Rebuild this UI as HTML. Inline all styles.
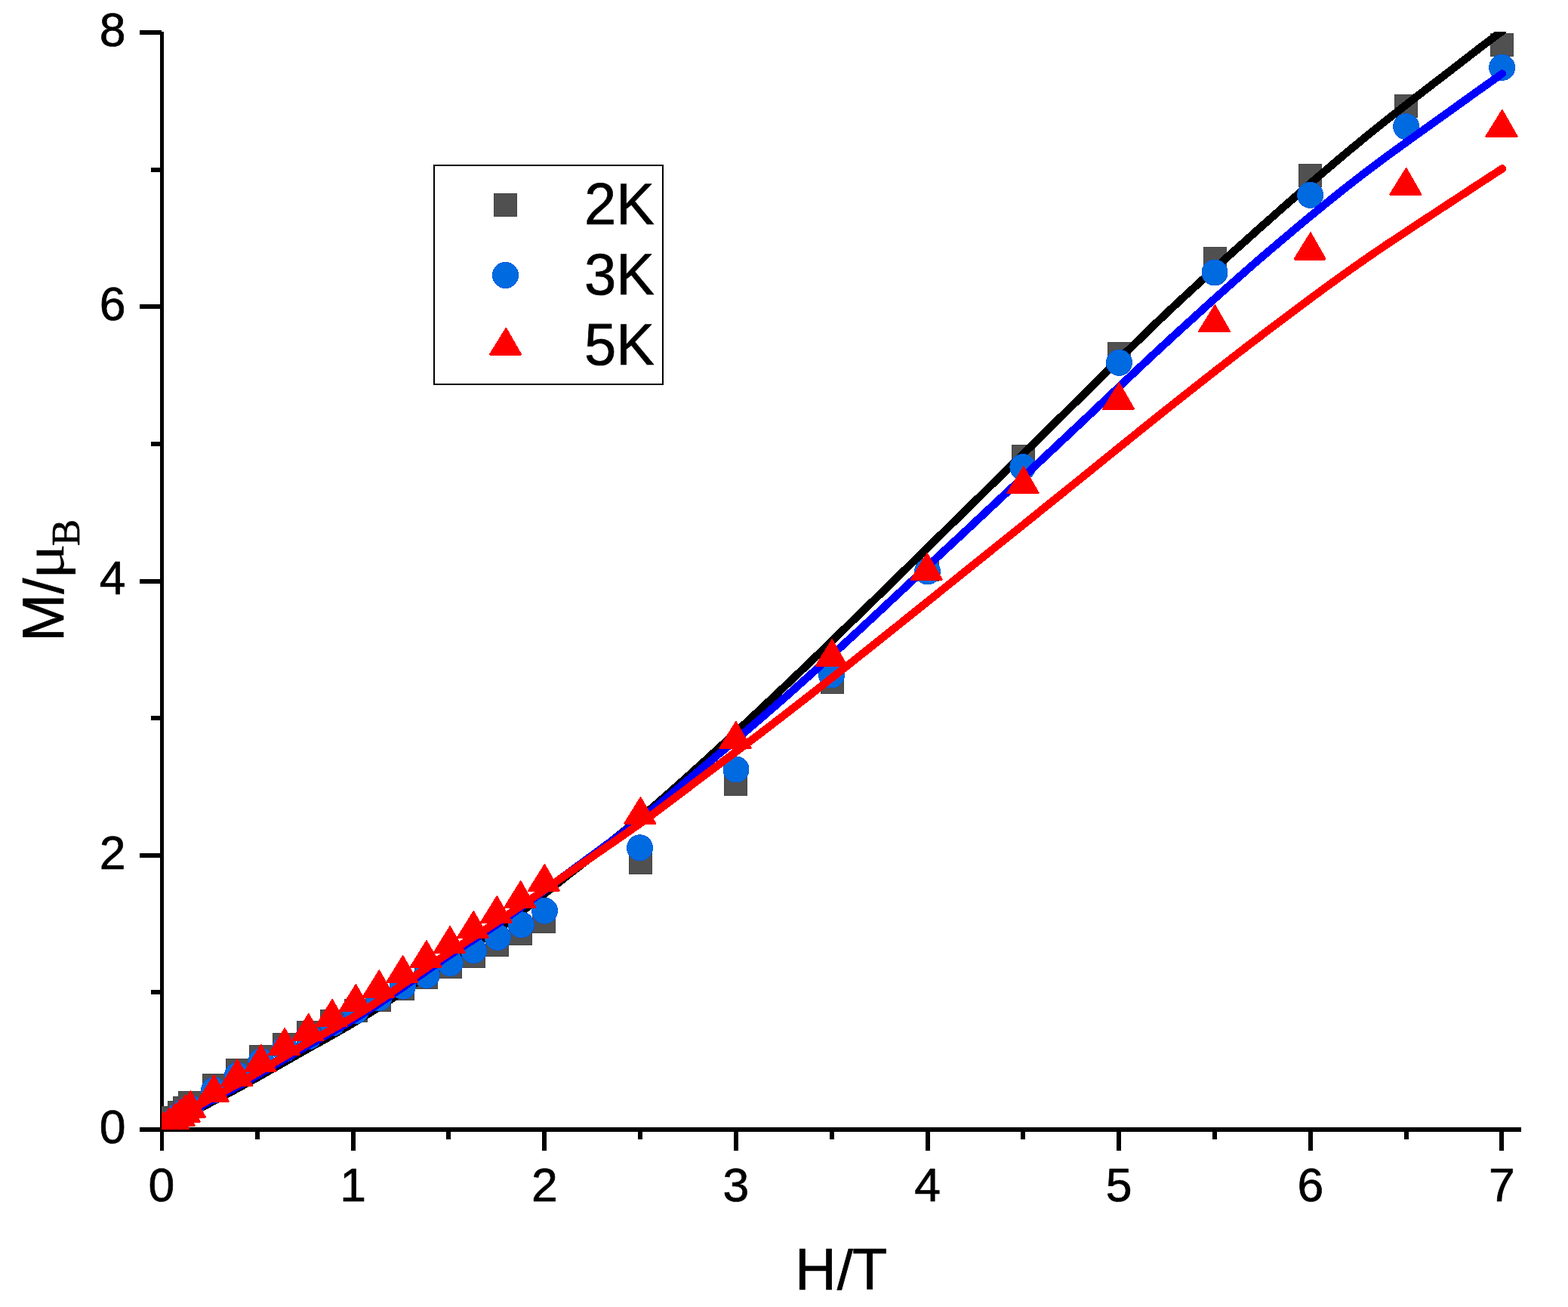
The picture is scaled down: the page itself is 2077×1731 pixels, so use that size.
<!DOCTYPE html>
<html lang="en"><head><meta charset="utf-8"><title>M/μB vs H/T</title>
<style>html,body{margin:0;padding:0;background:#fff}body{width:2077px;height:1731px;overflow:hidden}svg{display:block}text{font-family:"Liberation Sans", Arial, Helvetica, sans-serif;fill:#000;stroke:#000;stroke-width:0.7px;stroke-linejoin:round}</style>
</head><body>
<svg width="2077" height="1731" viewBox="0 0 2077 1731">
<rect x="0" y="0" width="2077" height="1731" fill="#fff"/>
<defs><clipPath id="plot"><rect x="214" y="42" width="1802" height="1454"/></clipPath></defs>
<g fill="#000" shape-rendering="crispEdges">
<rect x="212" y="42" width="5" height="1457"/>
<rect x="212" y="1493" width="1803" height="6"/>
<rect x="185" y="1493" width="29" height="6"/>
<rect x="200" y="1311" width="14" height="6"/>
<rect x="185" y="1130" width="29" height="6"/>
<rect x="200" y="948" width="14" height="6"/>
<rect x="185" y="767" width="29" height="6"/>
<rect x="200" y="585" width="14" height="6"/>
<rect x="185" y="403" width="29" height="6"/>
<rect x="200" y="222" width="14" height="6"/>
<rect x="185" y="40" width="29" height="6"/>
<rect x="212" y="1496" width="5" height="28"/>
<rect x="338" y="1496" width="6" height="13"/>
<rect x="465" y="1496" width="6" height="28"/>
<rect x="591" y="1496" width="6" height="13"/>
<rect x="718" y="1496" width="6" height="28"/>
<rect x="845" y="1496" width="6" height="13"/>
<rect x="972" y="1496" width="6" height="28"/>
<rect x="1099" y="1496" width="6" height="13"/>
<rect x="1226" y="1496" width="6" height="28"/>
<rect x="1352" y="1496" width="6" height="13"/>
<rect x="1479" y="1496" width="6" height="28"/>
<rect x="1606" y="1496" width="6" height="13"/>
<rect x="1733" y="1496" width="6" height="28"/>
<rect x="1860" y="1496" width="6" height="13"/>
<rect x="1986" y="1496" width="6" height="28"/>
</g>
<text transform="translate(166.4 1513.8) scale(1 1.01)" font-size="62.5" text-anchor="end">0</text>
<text transform="translate(166.4 1150.5) scale(1 1.01)" font-size="62.5" text-anchor="end">2</text>
<text transform="translate(166.4 787.3) scale(1 1.01)" font-size="62.5" text-anchor="end">4</text>
<text transform="translate(166.4 424.1) scale(1 1.01)" font-size="62.5" text-anchor="end">6</text>
<text transform="translate(166.4 60.8) scale(1 1.01)" font-size="62.5" text-anchor="end">8</text>
<text transform="translate(214.0 1591.0) scale(1 1.01)" font-size="62.5" text-anchor="middle">0</text>
<text transform="translate(467.6 1591.0) scale(1 1.01)" font-size="62.5" text-anchor="middle">1</text>
<text transform="translate(721.3 1591.0) scale(1 1.01)" font-size="62.5" text-anchor="middle">2</text>
<text transform="translate(974.9 1591.0) scale(1 1.01)" font-size="62.5" text-anchor="middle">3</text>
<text transform="translate(1228.6 1591.0) scale(1 1.01)" font-size="62.5" text-anchor="middle">4</text>
<text transform="translate(1482.2 1591.0) scale(1 1.01)" font-size="62.5" text-anchor="middle">5</text>
<text transform="translate(1735.8 1591.0) scale(1 1.01)" font-size="62.5" text-anchor="middle">6</text>
<text transform="translate(1989.5 1591.0) scale(1 1.01)" font-size="62.5" text-anchor="middle">7</text>
<text transform="translate(1053.0 1708.0) scale(1 1.035)" font-size="76" text-anchor="start">H</text><text transform="translate(1108.7 1708.0) scale(1 0.985)" font-size="76" text-anchor="start">/</text><text transform="translate(1129.0 1708.0) scale(1 1.035)" font-size="76" text-anchor="start">T</text>
<g transform="translate(84.4 850) rotate(-90)"><text transform="scale(1 1.035)" font-size="76" x="0" y="0">M</text><text transform="translate(63.31 0) scale(1 0.985)" font-size="76" x="0" y="0">/</text><text transform="translate(82.5 0) scale(1.17 1)" font-size="76" x="0" y="0" style='font-family:"Liberation Serif", "Times New Roman", serif;stroke:none'>μ</text><text font-size="53" x="127" y="21" style='font-family:"Liberation Serif", "Times New Roman", serif'>B</text></g>
<g clip-path="url(#plot)" shape-rendering="crispEdges">
<g fill="#505050" stroke="#434343" stroke-width="1">
<rect x="201.5" y="1480.5" width="30" height="30"/>
<rect x="208.5" y="1472.5" width="30" height="30"/>
<rect x="213.5" y="1465.5" width="30" height="30"/>
<rect x="222.5" y="1458.5" width="30" height="30"/>
<rect x="229.5" y="1452.5" width="30" height="30"/>
<rect x="236.5" y="1445.5" width="30" height="30"/>
<rect x="268.5" y="1422.5" width="30" height="30"/>
<rect x="299.5" y="1402.5" width="30" height="30"/>
<rect x="330.5" y="1384.5" width="30" height="30"/>
<rect x="361.5" y="1368.5" width="30" height="30"/>
<rect x="393.5" y="1352.5" width="30" height="30"/>
<rect x="424.5" y="1337.5" width="30" height="30"/>
<rect x="456.5" y="1323.5" width="30" height="30"/>
<rect x="487.5" y="1309.5" width="30" height="30"/>
<rect x="518.5" y="1294.5" width="30" height="30"/>
<rect x="549.5" y="1279.5" width="30" height="30"/>
<rect x="581.5" y="1265.5" width="30" height="30"/>
<rect x="612.5" y="1251.5" width="30" height="30"/>
<rect x="643.5" y="1236.5" width="30" height="30"/>
<rect x="674.5" y="1221.5" width="30" height="30"/>
<rect x="705.5" y="1205.5" width="30" height="30"/>
<rect x="833.5" y="1127.5" width="30" height="30"/>
<rect x="959.5" y="1023.5" width="30" height="30"/>
<rect x="1087.5" y="888.5" width="30" height="30"/>
<rect x="1213.5" y="739.5" width="30" height="30"/>
<rect x="1340.5" y="589.5" width="30" height="30"/>
<rect x="1467.5" y="453.5" width="30" height="30"/>
<rect x="1594.5" y="327.5" width="30" height="30"/>
<rect x="1720.5" y="217.5" width="30" height="30"/>
<rect x="1847.5" y="125.5" width="30" height="30"/>
<rect x="1974.5" y="44.5" width="30" height="30"/>
</g>
<path d="M214.5,1496.0 L227.2,1488.9 L239.9,1481.8 L252.5,1474.8 L265.2,1467.8 L277.9,1461.0 L290.6,1454.2 L303.3,1447.6 L316.0,1440.8 L328.6,1433.8 L341.3,1426.8 L354.0,1419.6 L366.7,1412.4 L379.4,1405.2 L392.0,1398.0 L404.7,1390.8 L417.4,1383.6 L430.1,1376.6 L442.8,1369.5 L455.5,1362.2 L468.1,1354.8 L480.8,1347.2 L493.5,1339.2 L506.2,1331.1 L518.9,1322.9 L531.5,1314.5 L544.2,1306.1 L556.9,1297.6 L569.6,1289.2 L582.3,1280.7 L595.0,1272.4 L607.6,1264.3 L620.3,1256.3 L633.0,1248.3 L645.7,1240.1 L658.4,1231.5 L671.1,1222.5 L683.7,1213.1 L696.4,1203.3 L709.1,1193.4 L721.8,1183.4 L734.5,1173.3 L747.1,1163.3 L759.8,1153.3 L772.5,1143.4 L785.2,1133.5 L797.9,1123.5 L810.6,1113.4 L823.2,1103.3 L835.9,1093.0 L848.6,1082.6 L861.3,1071.9 L874.0,1061.0 L886.6,1049.9 L899.3,1038.6 L912.0,1027.3 L924.7,1015.8 L937.4,1004.3 L950.1,992.7 L962.7,981.0 L975.4,969.2 L988.1,957.4 L1000.8,945.5 L1013.5,933.6 L1026.1,921.7 L1038.8,909.7 L1051.5,897.6 L1064.2,885.5 L1076.9,873.3 L1089.6,861.0 L1102.2,848.7 L1114.9,836.4 L1127.6,824.0 L1140.3,811.7 L1153.0,799.3 L1165.7,787.0 L1178.3,774.6 L1191.0,762.2 L1203.7,749.8 L1216.4,737.4 L1229.1,725.0 L1241.7,712.6 L1254.4,700.1 L1267.1,687.7 L1279.8,675.3 L1292.5,662.8 L1305.2,650.4 L1317.8,637.9 L1330.5,625.5 L1343.2,613.1 L1355.9,600.6 L1368.6,588.2 L1381.2,575.7 L1393.9,563.2 L1406.6,550.8 L1419.3,538.3 L1432.0,525.8 L1444.7,513.3 L1457.3,500.7 L1470.0,488.1 L1482.7,475.5 L1495.4,463.0 L1508.1,450.6 L1520.7,438.2 L1533.4,426.0 L1546.1,414.0 L1558.8,402.0 L1571.5,390.2 L1584.2,378.5 L1596.8,366.8 L1609.5,355.3 L1622.2,343.8 L1634.9,332.3 L1647.6,321.0 L1660.2,309.6 L1672.9,298.3 L1685.6,287.1 L1698.3,275.8 L1711.0,264.7 L1723.7,253.6 L1736.3,242.5 L1749.0,231.6 L1761.7,220.8 L1774.4,210.0 L1787.1,199.4 L1799.8,188.9 L1812.4,178.5 L1825.1,168.3 L1837.8,158.2 L1850.5,148.2 L1863.2,138.3 L1875.8,128.5 L1888.5,118.7 L1901.2,108.9 L1913.9,99.2 L1926.6,89.4 L1939.3,79.6 L1951.9,69.8 L1964.6,60.1 L1977.3,50.5 L1990.0,41.2" fill="none" stroke="#000000" stroke-width="10.4" stroke-linejoin="round" stroke-linecap="round"/>
<g fill="#006BE0" stroke="#005CE0" stroke-width="1">
<circle cx="217.0" cy="1495.0" r="17.0"/>
<circle cx="224.0" cy="1489.5" r="17.0"/>
<circle cx="231.0" cy="1484.0" r="17.0"/>
<circle cx="238.0" cy="1477.5" r="17.0"/>
<circle cx="245.0" cy="1471.5" r="17.0"/>
<circle cx="252.6" cy="1468.0" r="17.0"/>
<circle cx="283.5" cy="1444.0" r="17.0"/>
<circle cx="314.7" cy="1424.0" r="17.0"/>
<circle cx="345.9" cy="1405.7" r="17.0"/>
<circle cx="377.3" cy="1389.1" r="17.0"/>
<circle cx="408.9" cy="1372.7" r="17.0"/>
<circle cx="440.3" cy="1355.0" r="17.0"/>
<circle cx="471.5" cy="1338.5" r="17.0"/>
<circle cx="501.9" cy="1321.6" r="17.0"/>
<circle cx="533.6" cy="1306.1" r="17.0"/>
<circle cx="565.1" cy="1291.5" r="17.0"/>
<circle cx="596.2" cy="1275.4" r="17.0"/>
<circle cx="627.5" cy="1258.7" r="17.0"/>
<circle cx="659.3" cy="1241.4" r="17.0"/>
<circle cx="690.3" cy="1224.8" r="17.0"/>
<circle cx="721.5" cy="1206.2" r="17.0"/>
<circle cx="847.5" cy="1122.8" r="17.0"/>
<circle cx="975.0" cy="1019.0" r="17.0"/>
<circle cx="1101.4" cy="893.9" r="17.0"/>
<circle cx="1228.6" cy="757.0" r="17.0"/>
<circle cx="1354.9" cy="618.6" r="17.0"/>
<circle cx="1482.5" cy="480.4" r="17.0"/>
<circle cx="1609.0" cy="361.0" r="17.0"/>
<circle cx="1735.6" cy="258.3" r="17.0"/>
<circle cx="1862.7" cy="167.7" r="17.0"/>
<circle cx="1989.6" cy="89.4" r="17.0"/>
</g>
<path d="M214.5,1496.0 L227.2,1488.1 L239.9,1480.4 L252.5,1472.9 L265.2,1465.6 L277.9,1458.4 L290.6,1451.6 L303.3,1445.0 L316.0,1438.3 L328.6,1431.2 L341.3,1423.9 L354.0,1416.4 L366.7,1408.9 L379.4,1401.3 L392.0,1393.8 L404.7,1386.5 L417.4,1379.3 L430.1,1372.2 L442.8,1365.1 L455.5,1357.9 L468.1,1350.5 L480.8,1342.7 L493.5,1334.6 L506.2,1326.3 L518.9,1317.7 L531.5,1309.1 L544.2,1300.3 L556.9,1291.5 L569.6,1282.7 L582.3,1274.1 L595.0,1265.5 L607.6,1257.2 L620.3,1249.0 L633.0,1240.8 L645.7,1232.6 L658.4,1224.1 L671.1,1215.4 L683.7,1206.5 L696.4,1197.4 L709.1,1188.2 L721.8,1178.9 L734.5,1169.6 L747.1,1160.3 L759.8,1150.9 L772.5,1141.6 L785.2,1132.3 L797.9,1122.9 L810.6,1113.5 L823.2,1104.0 L835.9,1094.4 L848.6,1084.6 L861.3,1074.6 L874.0,1064.3 L886.6,1053.7 L899.3,1043.0 L912.0,1032.3 L924.7,1021.7 L937.4,1011.1 L950.1,1000.4 L962.7,989.8 L975.4,979.1 L988.1,968.3 L1000.8,957.5 L1013.5,946.6 L1026.1,935.6 L1038.8,924.5 L1051.5,913.3 L1064.2,901.9 L1076.9,890.5 L1089.6,879.1 L1102.2,867.5 L1114.9,855.9 L1127.6,844.2 L1140.3,832.5 L1153.0,820.7 L1165.7,808.9 L1178.3,797.1 L1191.0,785.3 L1203.7,773.4 L1216.4,761.6 L1229.1,749.8 L1241.7,737.9 L1254.4,726.1 L1267.1,714.4 L1279.8,702.6 L1292.5,690.7 L1305.2,678.9 L1317.8,667.0 L1330.5,655.1 L1343.2,643.3 L1355.9,631.4 L1368.6,619.5 L1381.2,607.6 L1393.9,595.7 L1406.6,583.8 L1419.3,571.9 L1432.0,560.0 L1444.7,548.0 L1457.3,536.0 L1470.0,524.0 L1482.7,512.0 L1495.4,500.0 L1508.1,488.1 L1520.7,476.2 L1533.4,464.4 L1546.1,452.7 L1558.8,441.0 L1571.5,429.5 L1584.2,418.0 L1596.8,406.5 L1609.5,395.1 L1622.2,383.7 L1634.9,372.5 L1647.6,361.3 L1660.2,350.2 L1672.9,339.3 L1685.6,328.4 L1698.3,317.7 L1711.0,307.0 L1723.7,296.4 L1736.3,285.9 L1749.0,275.5 L1761.7,265.2 L1774.4,255.0 L1787.1,245.0 L1799.8,235.1 L1812.4,225.4 L1825.1,215.9 L1837.8,206.5 L1850.5,197.3 L1863.2,188.1 L1875.8,179.0 L1888.5,169.9 L1901.2,160.9 L1913.9,151.8 L1926.6,142.7 L1939.3,133.6 L1951.9,124.5 L1964.6,115.5 L1977.3,106.5 L1990.0,97.5" fill="none" stroke="#0000FF" stroke-width="10.4" stroke-linejoin="round" stroke-linecap="round"/>
<g fill="#FF0000">
<path d="M216.4,1471.5 L217.4,1471.5 L237.7,1507.1 L236.3,1508.7 L195.7,1508.7 L194.3,1507.1 Z"/>
<path d="M223.4,1466.5 L224.4,1466.5 L244.7,1502.1 L243.3,1503.7 L202.7,1503.7 L201.3,1502.1 Z"/>
<path d="M230.7,1461.0 L231.7,1461.0 L252.0,1496.6 L250.6,1498.2 L210.0,1498.2 L208.6,1496.6 Z"/>
<path d="M237.8,1455.2 L238.8,1455.2 L259.1,1490.8 L257.7,1492.4 L217.1,1492.4 L215.7,1490.8 Z"/>
<path d="M244.6,1449.8 L245.6,1449.8 L265.9,1485.4 L264.5,1487.0 L223.9,1487.0 L222.5,1485.4 Z"/>
<path d="M251.9,1444.0 L252.9,1444.0 L273.2,1479.6 L271.8,1481.2 L231.2,1481.2 L229.8,1479.6 Z"/>
<path d="M282.9,1423.1 L283.9,1423.1 L304.2,1458.7 L302.8,1460.3 L262.2,1460.3 L260.8,1458.7 Z"/>
<path d="M314.1,1402.2 L315.1,1402.2 L335.4,1437.8 L334.0,1439.4 L293.4,1439.4 L292.0,1437.8 Z"/>
<path d="M345.3,1383.0 L346.3,1383.0 L366.6,1418.6 L365.2,1420.2 L324.6,1420.2 L323.2,1418.6 Z"/>
<path d="M376.7,1361.1 L377.7,1361.1 L398.0,1396.7 L396.6,1398.3 L356.0,1398.3 L354.6,1396.7 Z"/>
<path d="M408.3,1341.9 L409.3,1341.9 L429.6,1377.5 L428.2,1379.1 L387.6,1379.1 L386.2,1377.5 Z"/>
<path d="M439.7,1322.9 L440.7,1322.9 L461.0,1358.5 L459.6,1360.1 L419.0,1360.1 L417.6,1358.5 Z"/>
<path d="M470.9,1303.1 L471.9,1303.1 L492.2,1338.7 L490.8,1340.3 L450.2,1340.3 L448.8,1338.7 Z"/>
<path d="M501.8,1284.4 L502.8,1284.4 L523.1,1320.0 L521.7,1321.6 L481.1,1321.6 L479.7,1320.0 Z"/>
<path d="M533.2,1265.1 L534.2,1265.1 L554.5,1300.7 L553.1,1302.3 L512.5,1302.3 L511.1,1300.7 Z"/>
<path d="M564.5,1245.2 L565.5,1245.2 L585.8,1280.8 L584.4,1282.4 L543.8,1282.4 L542.4,1280.8 Z"/>
<path d="M595.7,1226.1 L596.7,1226.1 L617.0,1261.7 L615.6,1263.3 L575.0,1263.3 L573.6,1261.7 Z"/>
<path d="M626.8,1206.2 L627.8,1206.2 L648.1,1241.8 L646.7,1243.4 L606.1,1243.4 L604.7,1241.8 Z"/>
<path d="M657.8,1186.2 L658.8,1186.2 L679.1,1221.8 L677.7,1223.4 L637.1,1223.4 L635.7,1221.8 Z"/>
<path d="M689.2,1166.2 L690.2,1166.2 L710.5,1201.8 L709.1,1203.4 L668.5,1203.4 L667.1,1201.8 Z"/>
<path d="M720.9,1144.1 L721.9,1144.1 L742.2,1179.7 L740.8,1181.3 L700.2,1181.3 L698.8,1179.7 Z"/>
<path d="M848.1,1055.1 L849.1,1055.1 L869.4,1090.7 L868.0,1092.3 L827.4,1092.3 L826.0,1090.7 Z"/>
<path d="M974.4,954.9 L975.4,954.9 L995.7,990.5 L994.3,992.1 L953.7,992.1 L952.3,990.5 Z"/>
<path d="M1101.7,846.2 L1102.7,846.2 L1123.0,881.8 L1121.6,883.4 L1081.0,883.4 L1079.6,881.8 Z"/>
<path d="M1227.7,732.1 L1228.7,732.1 L1249.0,767.7 L1247.6,769.3 L1207.0,769.3 L1205.6,767.7 Z"/>
<path d="M1355.4,617.2 L1356.4,617.2 L1376.7,652.8 L1375.3,654.4 L1334.7,654.4 L1333.3,652.8 Z"/>
<path d="M1481.9,506.1 L1482.9,506.1 L1503.2,541.7 L1501.8,543.3 L1461.2,543.3 L1459.8,541.7 Z"/>
<path d="M1608.9,403.2 L1609.9,403.2 L1630.2,438.8 L1628.8,440.4 L1588.2,440.4 L1586.8,438.8 Z"/>
<path d="M1735.5,307.4 L1736.5,307.4 L1756.8,343.0 L1755.4,344.6 L1714.8,344.6 L1713.4,343.0 Z"/>
<path d="M1862.2,221.9 L1863.2,221.9 L1883.5,257.5 L1882.1,259.1 L1841.5,259.1 L1840.1,257.5 Z"/>
<path d="M1989.4,144.8 L1990.4,144.8 L2010.7,180.4 L2009.3,182.0 L1968.7,182.0 L1967.3,180.4 Z"/>
</g>
<path d="M214.5,1496.0 L227.2,1487.3 L239.9,1478.9 L252.5,1470.8 L265.2,1463.0 L277.9,1455.5 L290.6,1448.5 L303.3,1441.8 L316.0,1435.0 L328.6,1427.8 L341.3,1420.4 L354.0,1412.9 L366.7,1405.3 L379.4,1397.8 L392.0,1390.2 L404.7,1382.8 L417.4,1375.6 L430.1,1368.6 L442.8,1361.5 L455.5,1354.3 L468.1,1346.9 L480.8,1339.1 L493.5,1331.0 L506.2,1322.6 L518.9,1313.9 L531.5,1305.2 L544.2,1296.4 L556.9,1287.5 L569.6,1278.8 L582.3,1270.1 L595.0,1261.6 L607.6,1253.4 L620.3,1245.3 L633.0,1237.3 L645.7,1229.2 L658.4,1220.9 L671.1,1212.5 L683.7,1204.0 L696.4,1195.5 L709.1,1186.8 L721.8,1178.1 L734.5,1169.3 L747.1,1160.5 L759.8,1151.8 L772.5,1143.0 L785.2,1134.2 L797.9,1125.4 L810.6,1116.7 L823.2,1107.9 L835.9,1099.1 L848.6,1090.1 L861.3,1081.0 L874.0,1071.6 L886.6,1062.1 L899.3,1052.5 L912.0,1042.9 L924.7,1033.3 L937.4,1023.8 L950.1,1014.3 L962.7,1004.8 L975.4,995.3 L988.1,985.7 L1000.8,976.1 L1013.5,966.5 L1026.1,956.8 L1038.8,947.0 L1051.5,937.2 L1064.2,927.3 L1076.9,917.4 L1089.6,907.5 L1102.2,897.5 L1114.9,887.5 L1127.6,877.5 L1140.3,867.4 L1153.0,857.3 L1165.7,847.2 L1178.3,837.1 L1191.0,827.0 L1203.7,816.8 L1216.4,806.6 L1229.1,796.5 L1241.7,786.3 L1254.4,776.1 L1267.1,765.9 L1279.8,755.7 L1292.5,745.5 L1305.2,735.4 L1317.8,725.2 L1330.5,715.0 L1343.2,704.9 L1355.9,694.7 L1368.6,684.4 L1381.2,674.2 L1393.9,664.0 L1406.6,653.8 L1419.3,643.6 L1432.0,633.4 L1444.7,623.1 L1457.3,612.9 L1470.0,602.6 L1482.7,592.4 L1495.4,582.1 L1508.1,571.9 L1520.7,561.7 L1533.4,551.6 L1546.1,541.5 L1558.8,531.4 L1571.5,521.4 L1584.2,511.4 L1596.8,501.5 L1609.5,491.5 L1622.2,481.7 L1634.9,471.8 L1647.6,462.0 L1660.2,452.3 L1672.9,442.7 L1685.6,433.1 L1698.3,423.5 L1711.0,414.0 L1723.7,404.5 L1736.3,395.1 L1749.0,385.7 L1761.7,376.5 L1774.4,367.3 L1787.1,358.2 L1799.8,349.3 L1812.4,340.5 L1825.1,331.8 L1837.8,323.2 L1850.5,314.8 L1863.2,306.3 L1875.8,298.0 L1888.5,289.7 L1901.2,281.4 L1913.9,273.0 L1926.6,264.7 L1939.3,256.4 L1951.9,248.1 L1964.6,239.8 L1977.3,231.6 L1990.0,223.4" fill="none" stroke="#FF0000" stroke-width="10.4" stroke-linejoin="round" stroke-linecap="round"/>
</g>
<rect x="575" y="219" width="303" height="290" fill="#fff" stroke="#000" stroke-width="2" shape-rendering="crispEdges"/>
<rect x="654.5" y="256.5" width="30" height="30" fill="#505050" stroke="#434343" stroke-width="1" shape-rendering="crispEdges"/>
<circle cx="669.5" cy="364.5" r="17" fill="#006BE0" stroke="#005CE0" stroke-width="1" shape-rendering="crispEdges"/>
<g fill="#FF0000" shape-rendering="crispEdges"><path d="M669.9,433.8 L670.9,433.8 L691.2,469.4 L689.8,471.0 L649.2,471.0 L647.8,469.4 Z"/></g>
<text transform="translate(774.0 296.6) scale(1 1.035)" font-size="76" text-anchor="start">2K</text>
<text transform="translate(774.0 389.6) scale(1 1.035)" font-size="76" text-anchor="start">3K</text>
<text transform="translate(774.0 483.0) scale(1 1.035)" font-size="76" text-anchor="start">5K</text>
</svg></body></html>
